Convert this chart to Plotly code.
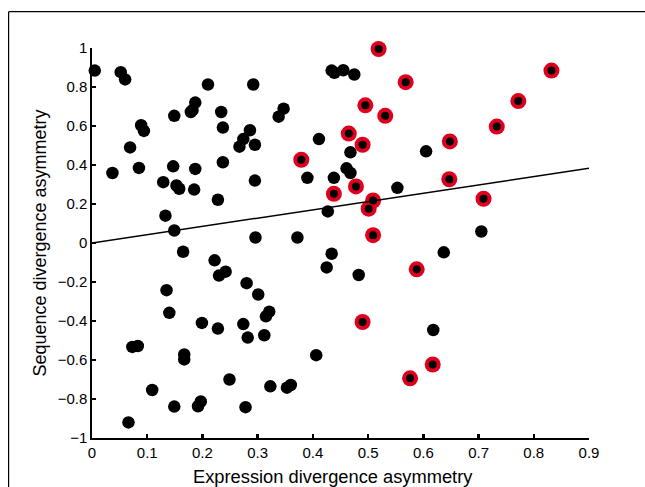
import plotly.graph_objects as go

# Black points (not significant)
black_x = [0.005, 0.052, 0.060, 0.210, 0.292, 0.434, 0.439, 0.455, 0.475, 0.187,
           0.182, 0.179, 0.149, 0.234, 0.338, 0.347, 0.089, 0.094, 0.237, 0.286,
           0.274, 0.267, 0.295, 0.069, 0.411, 0.468, 0.605, 0.037, 0.085, 0.147,
           0.187, 0.237, 0.295, 0.129, 0.153, 0.158, 0.185, 0.228, 0.390, 0.438,
           0.461, 0.468, 0.553, 0.133, 0.427, 0.149, 0.296, 0.372, 0.705, 0.165,
           0.222, 0.434, 0.425, 0.483, 0.637, 0.230, 0.242, 0.280, 0.301, 0.135,
           0.140, 0.321, 0.315, 0.199, 0.228, 0.274, 0.282, 0.312, 0.618, 0.073,
           0.083, 0.167, 0.167, 0.406, 0.109, 0.249, 0.323, 0.353, 0.360, 0.149,
           0.192, 0.197, 0.278, 0.066]
black_y = [0.884, 0.876, 0.839, 0.813, 0.813, 0.884, 0.873, 0.886, 0.864, 0.720,
           0.681, 0.672, 0.652, 0.672, 0.648, 0.689, 0.604, 0.575, 0.592, 0.578,
           0.533, 0.494, 0.504, 0.490, 0.533, 0.465, 0.470, 0.359, 0.385, 0.393,
           0.380, 0.414, 0.320, 0.312, 0.295, 0.278, 0.274, 0.222, 0.334, 0.334,
           0.383, 0.359, 0.283, 0.140, 0.162, 0.064, 0.028, 0.028, 0.059, -0.045,
           -0.089, -0.055, -0.125, -0.164, -0.048, -0.167, -0.147, -0.206, -0.264, -0.242,
           -0.358, -0.352, -0.376, -0.410, -0.439, -0.416, -0.485, -0.473, -0.446, -0.533,
           -0.528, -0.572, -0.597, -0.575, -0.754, -0.700, -0.735, -0.742, -0.728, -0.839,
           -0.837, -0.813, -0.842, -0.920]

# Red-ringed points (highlighted)
red_x = [0.519, 0.568, 0.832, 0.495, 0.531, 0.772, 0.733, 0.465, 0.490, 0.648,
         0.379, 0.647, 0.478, 0.438, 0.509, 0.501, 0.709, 0.509, 0.588, 0.490,
         0.617, 0.576]
red_y = [0.995, 0.825, 0.884, 0.706, 0.652, 0.728, 0.597, 0.561, 0.504, 0.521,
         0.427, 0.327, 0.290, 0.252, 0.218, 0.176, 0.227, 0.040, -0.135, -0.405,
         -0.623, -0.694]

# Regression line endpoints
fit_x = [0.0, 0.9]
fit_y = [0.0, 0.383]

x_ticks = [0, 0.1, 0.2, 0.3, 0.4, 0.5, 0.6, 0.7, 0.8, 0.9]
x_tick_labels = ["0", "0.1", "0.2", "0.3", "0.4", "0.5", "0.6", "0.7", "0.8", "0.9"]
y_ticks = [-1, -0.8, -0.6, -0.4, -0.2, 0, 0.2, 0.4, 0.6, 0.8, 1]
y_tick_labels = ["\u22121", "\u22120.8", "\u22120.6", "\u22120.4", "\u22120.2", "0",
                 "0.2", "0.4", "0.6", "0.8", "1"]
x_title = "Expression divergence asymmetry"
y_title = "Sequence divergence asymmetry"

fig = go.Figure()
fig.add_trace(go.Scatter(x=black_x, y=black_y, mode="markers", cliponaxis=False,
                         marker=dict(color="black", size=12.5, line=dict(width=0)),
                         hoverinfo="skip"))
fig.add_trace(go.Scatter(x=red_x, y=red_y, mode="markers", cliponaxis=False,
                         marker=dict(color="#e0001e", size=16, line=dict(width=0)),
                         hoverinfo="skip"))
fig.add_trace(go.Scatter(x=red_x, y=red_y, mode="markers", cliponaxis=False,
                         marker=dict(color="black", size=8, line=dict(width=0)),
                         hoverinfo="skip"))
fig.add_trace(go.Scatter(x=fit_x, y=fit_y, mode="lines", cliponaxis=False,
                         line=dict(color="black", width=1.5), hoverinfo="skip"))

font = dict(family="Liberation Sans, Arial, Helvetica, sans-serif", color="black")

# plot area at x 92..589, y 48..438 in the 645x487 window (body margin removed)
fl = (8.6 - 92) / 497          # frame left, paper coords
ft = (438 - 11.7) / 390        # frame top, paper coords
fig.update_layout(
    width=645, height=487,
    margin=dict(l=92, r=56, t=48, b=49),
    paper_bgcolor="white", plot_bgcolor="white",
    showlegend=False,
    font=dict(size=15, **font),
    xaxis=dict(range=[0, 0.9], tickvals=x_ticks, ticktext=x_tick_labels,
               showgrid=False, zeroline=False, showline=True, linecolor="black",
               linewidth=1.7, ticks="inside", ticklen=4, tickwidth=2.5,
               tickcolor="black", layer="below traces",
               tickfont=dict(size=15, **font)),
    yaxis=dict(range=[-1, 1], tickvals=y_ticks, ticktext=y_tick_labels,
               showgrid=False, zeroline=False, showline=True, linecolor="black",
               linewidth=1.7, ticks="inside", ticklen=4, tickwidth=2.5,
               tickcolor="black", layer="below traces",
               tickfont=dict(size=15, **font),
               title=dict(text=y_title, font=dict(size=18, **font), standoff=6)),
    annotations=[dict(text=x_title, xref="paper", yref="paper",
                      x=(333 - 92) / 497, y=(438 - 476) / 390,
                      xanchor="center", yanchor="middle", showarrow=False,
                      font=dict(size=18.3, **font))],
    shapes=[dict(type="line", xref="paper", yref="paper",
                 x0=fl, x1=1.3, y0=ft, y1=ft,
                 line=dict(color="black", width=1.2), layer="below"),
            dict(type="line", xref="paper", yref="paper",
                 x0=fl, x1=fl, y0=ft, y1=-0.3,
                 line=dict(color="black", width=1.2), layer="below")],
)

fig.write_html("out.html",
               config={"displayModeBar": False, "staticPlot": True},
               post_script="document.body.style.margin='0';"
                           "document.body.style.overflow='hidden';")
